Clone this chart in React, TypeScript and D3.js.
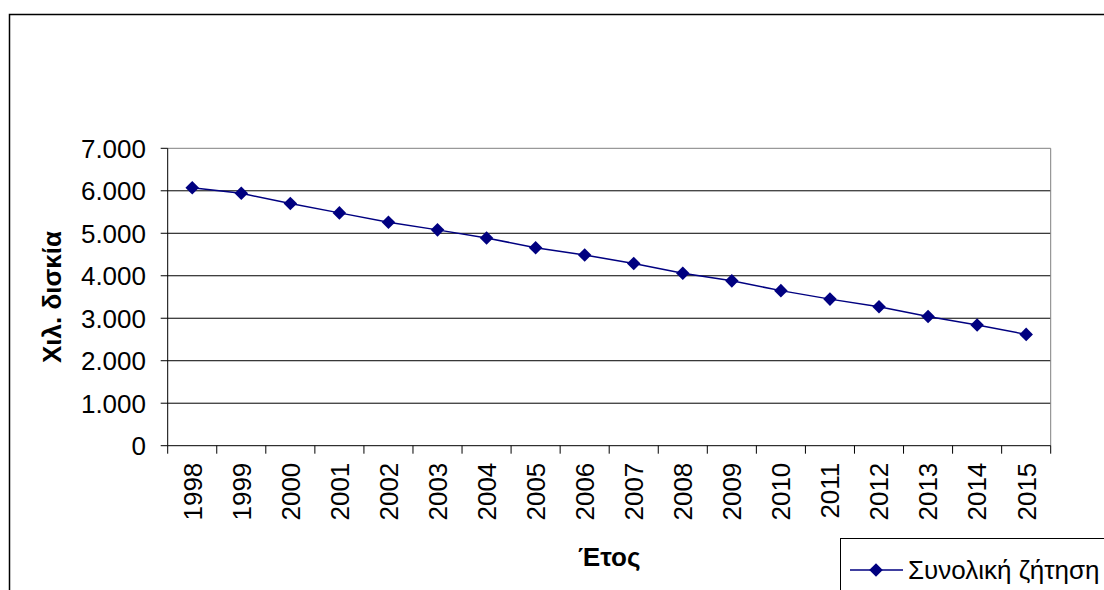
import { formatLocale, line, scaleBand, scaleLinear, symbol, symbolSquare } from 'd3';

const years = [
  '1998', '1999', '2000', '2001', '2002', '2003', '2004', '2005', '2006',
  '2007', '2008', '2009', '2010', '2011', '2012', '2013', '2014', '2015',
];
const demand = [
  6070, 5940, 5700, 5480, 5260, 5080, 4890, 4660, 4490,
  4290, 4060, 3880, 3650, 3450, 3270, 3040, 2840, 2620,
];
const yTicks = [0, 1000, 2000, 3000, 4000, 5000, 6000, 7000];
const seriesName = 'Συνολική ζήτηση';

const greek = formatLocale({
  decimal: ',',
  thousands: '.',
  grouping: [3],
  currency: ['', ' €'],
});
const fmt = greek.format(',d');

const FONT = '"Liberation Sans", Arial, sans-serif';
const NAVY = '#000080';

const plot = { left: 167.7, right: 1050.7, top: 148.3, bottom: 445.7 };

export default function App() {
  const scaleX = scaleBand<string>()
    .domain(years)
    .range([plot.left, plot.right])
    .padding(0);
  const scaleY = scaleLinear().domain([0, 7000]).range([plot.bottom, plot.top]);
  const bw = scaleX.bandwidth();

  const path = line<number>()
    .x((_, i) => (scaleX(years[i]) ?? 0) + bw / 2)
    .y((d) => scaleY(d))(demand);

  // square rotated 45° -> Excel style diamond
  const diamond = symbol().type(symbolSquare).size(92)() ?? '';

  const boundaries = years.map((y) => scaleX(y) ?? 0).concat([plot.right]);

  return (
    <svg
      width={1104}
      height={590}
      style={{ position: 'absolute', left: 0, top: 0, background: '#fff' }}
      fontFamily={FONT}
    >
      {/* chart frame, cut off at right & bottom */}
      <rect x={9.5} y={14.5} width={1120} height={620} fill="#fff" stroke="#000" strokeWidth={1.5} />

      {/* gridlines */}
      {yTicks.slice(1, -1).map((t) => (
        <line key={`g-${t}`} x1={plot.left} x2={plot.right} y1={scaleY(t)} y2={scaleY(t)} stroke="#000" strokeWidth={1} />
      ))}
      {/* plot border (grey) */}
      <line x1={plot.left} x2={plot.right} y1={plot.top} y2={plot.top} stroke="#808080" strokeWidth={1} />
      <line x1={plot.right} x2={plot.right} y1={plot.top} y2={plot.bottom} stroke="#808080" strokeWidth={1} />

      {/* y axis */}
      <line x1={plot.left} x2={plot.left} y1={plot.top} y2={plot.bottom} stroke="#000" strokeWidth={1} />
      {yTicks.map((t) => (
        <g key={`y-${t}`}>
          <line x1={plot.left - 7} x2={plot.left} y1={scaleY(t)} y2={scaleY(t)} stroke="#000" strokeWidth={1} />
          <text x={146} y={scaleY(t)} dy="0.36em" textAnchor="end" fontSize={26} fill="#000">
            {fmt(t)}
          </text>
        </g>
      ))}

      {/* x axis */}
      <line x1={plot.left} x2={plot.right} y1={plot.bottom} y2={plot.bottom} stroke="#000" strokeWidth={1} />
      {boundaries.map((x, i) => (
        <line key={`xt-${i}`} x1={x} x2={x} y1={plot.bottom} y2={plot.bottom + 8} stroke="#000" strokeWidth={1} />
      ))}
      {years.map((y) => {
        const cx = (scaleX(y) ?? 0) + bw / 2;
        return (
          <text
            key={`xl-${y}`}
            transform={`translate(${cx},${plot.bottom + 17}) rotate(-90)`}
            dy="0.36em"
            textAnchor="end"
            fontSize={26}
            fill="#000"
          >
            {y}
          </text>
        );
      })}

      {/* axis titles */}
      <text x={(plot.left + plot.right) / 2} y={566} textAnchor="middle" fontSize={26} fontWeight="bold">
        Έτος
      </text>
      <text
        transform={`translate(52,${(plot.top + plot.bottom) / 2}) rotate(-90)`}
        dy="0.36em"
        textAnchor="middle"
        fontSize={26}
        fontWeight="bold"
      >
        Χιλ. δισκία
      </text>

      {/* series */}
      <path d={path ?? ''} fill="none" stroke={NAVY} strokeWidth={1.5} />
      {demand.map((d, i) => (
        <path
          key={`m-${years[i]}`}
          d={diamond}
          transform={`translate(${(scaleX(years[i]) ?? 0) + bw / 2},${scaleY(d)}) rotate(45)`}
          fill={NAVY}
        />
      ))}

      {/* legend */}
      <rect x={840.5} y={538.5} width={300} height={70} fill="#fff" stroke="#000" strokeWidth={1} />
      <line x1={850} x2={903} y1={570} y2={570} stroke={NAVY} strokeWidth={1.5} />
      <path d={diamond} transform="translate(876,570) rotate(45)" fill={NAVY} />
      <text x={908} y={570} dy="0.36em" fontSize={26} fill="#000">
        {seriesName}
      </text>
    </svg>
  );
}
